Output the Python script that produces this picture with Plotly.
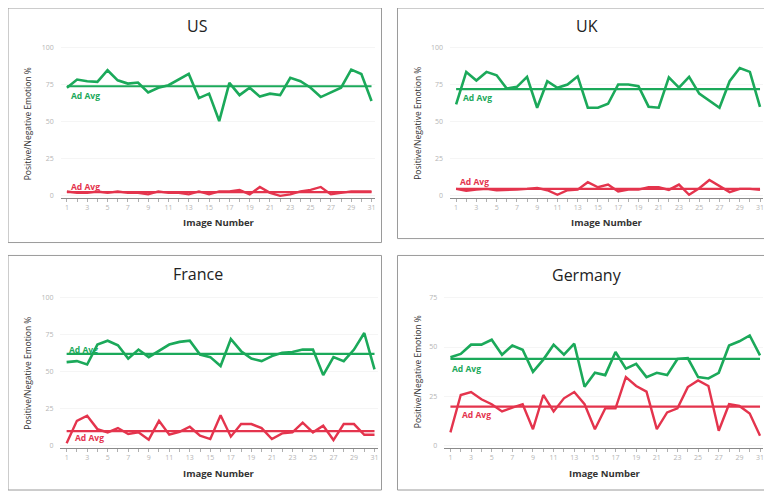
import plotly.graph_objects as go

# The page body has an 8px default margin; the figure is sized to fill the rest of the window.
OFF = 8
W, H = 772 - OFF, 494 - OFF

image_numbers = list(range(1, 32))
x_tick_labels = [str(i) if i % 2 == 1 else "" for i in image_numbers]

us_positive = [73, 78.5, 77.4, 77, 84.8, 78, 75.8, 76.5, 69.8, 73, 74.7, 78.5, 82.3, 66, 69, 50.5,
               76.3, 68, 73, 67, 69, 68, 79.7, 77.4, 73, 66.7, 69.6, 73, 85.2, 82.3, 64]
us_negative = [3, 2, 2, 3, 2, 3, 2, 2, 1, 3, 2, 2, 1, 3, 1, 3, 3, 4, 1, 6, 2, 0, 1, 3, 4, 6, 1, 2, 3, 3, 3]
us_pos_avg, us_neg_avg = 74, 2.5

uk_positive = [61.7, 83.7, 77.9, 83.7, 81.4, 72.5, 73.6, 80.3, 59.5, 77.4, 73, 75.2, 80.7, 59.5, 59.5, 62.2,
               75.2, 75.2, 74, 60.2, 59.5, 80, 73, 80.3, 69, 64, 59.5, 77.4, 86.3, 83.7, 60]
uk_negative = [4.7, 3.4, 4.2, 4.7, 3.8, 3.8, 4.2, 4.7, 5.4, 3.8, 0.7, 3.8, 4.2, 9.2, 5.8, 7.6,
               2.9, 4.2, 4.2, 5.8, 5.8, 4, 7.6, 0.7, 5.1, 10.7, 6.3, 2.5, 4.7, 4.7, 4]
uk_pos_avg, uk_neg_avg = 72, 4.7

fr_positive = [56.6, 57.3, 55, 68.5, 71.1, 68, 59, 65.1, 60, 64, 68.5, 70.3, 71.1, 61.7, 60, 54,
               72.3, 64, 59, 57.3, 60.7, 62.9, 63.5, 65.1, 65.1, 47.9, 60, 57.3, 65.1, 76.3, 51.7]
fr_negative = [1.8, 17, 20.4, 11.4, 9.2, 12.1, 8.1, 9.2, 4.3, 17, 7.6, 9.6, 13, 7, 4.7, 20.8,
               6.3, 14.8, 14.8, 12.1, 4.7, 8.5, 9.2, 15.7, 9.2, 13.7, 4, 14.8, 14.8, 7.6, 7.6]
fr_pos_avg, fr_neg_avg = 62.2, 10

de_positive = [44.8, 46.5, 51.2, 51.2, 53.7, 46.1, 50.8, 48.6, 37.4, 43.6, 51.2, 46.1, 51.7, 29.8, 36.9, 35.7,
               47.5, 39, 41.4, 34.7, 36.9, 35.7, 43.9, 44.4, 34.7, 34, 36.9, 50.8, 52.9, 55.9, 45.8]
de_negative = [6.6, 25.6, 27.1, 23.4, 20.9, 17.2, 19.2, 20.9, 8.2, 25.6, 17.2, 23.9, 27.1, 20.9, 8.2, 18.8,
               18.8, 34.7, 30.2, 27.3, 8.2, 16.7, 18.8, 29.6, 33, 30.2, 7.4, 20.9, 20, 16.2, 4.9]
de_pos_avg, de_neg_avg = 44, 19.7

y_ticks_100 = [0, 25, 50, 75, 100]
y_ticks_75 = [0, 25, 50, 75]

GREEN = "#1BA95A"
RED = "#E4344D"
FONT = "Open Sans"


def px(x):
    return min(max((x - OFF) / W, 0), 1)


def py(y):
    return min(max(1 - (y - OFF) / H, 0), 1)


panels = [
    dict(title="US", pos=us_positive, neg=us_negative, pavg=us_pos_avg, navg=us_neg_avg, yticks=y_ticks_100,
         x1=67, x31=372, y0=197, ytop=48, ytopv=100,
         box=(6, 7, 382, 244), tpos=(198, 26), xt=(219, 224), yt=(27, 124),
         glab=(69, 96), rlab=(69, 188)),
    dict(title="UK", pos=uk_positive, neg=uk_negative, pavg=uk_pos_avg, navg=uk_neg_avg, yticks=y_ticks_100,
         x1=456.7, x31=761, y0=197, ytop=48, ytopv=100,
         box=(398, 7, 767, 240), tpos=(588, 26), xt=(608, 224), yt=(418, 124),
         glab=(462, 98), rlab=(459, 183)),
    dict(title="France", pos=fr_positive, neg=fr_negative, pavg=fr_pos_avg, navg=fr_neg_avg, yticks=y_ticks_100,
         x1=66.7, x31=375, y0=448.7, ytop=299.7, ytopv=100,
         box=(7, 257, 382, 493), tpos=(198, 276), xt=(219, 476), yt=(28, 375),
         glab=(67, 352), rlab=(73, 440)),
    dict(title="Germany", pos=de_positive, neg=de_negative, pavg=de_pos_avg, navg=de_neg_avg, yticks=y_ticks_75,
         x1=451, x31=761, y0=448, ytop=299.7, ytopv=75,
         box=(398, 257, 767, 493), tpos=(588, 277), xt=(606, 476), yt=(418, 374),
         glab=(451, 371), rlab=(461, 417)),
]

fig = go.Figure()
annotations = []
shapes = []
layout_axes = {}

for i, p in enumerate(panels):
    n = "" if i == 0 else str(i + 1)
    xa, ya = "x" + n, "y" + n
    s = (p["x31"] - p["x1"]) / 30.0
    xr = [0.4, 31.3]
    xd = [px(p["x1"] + (v - 1) * s) for v in xr]
    k = (p["y0"] - p["ytop"]) / p["ytopv"]
    yr = [-1.2, p["ytopv"] + 3]
    yd = [py(p["y0"] - v * k) for v in yr]

    fig.add_trace(go.Scatter(x=image_numbers, y=p["pos"], mode="lines", xaxis=xa, yaxis=ya,
                             line=dict(color=GREEN, width=2.6), showlegend=False, hoverinfo="skip"))
    fig.add_trace(go.Scatter(x=image_numbers, y=p["neg"], mode="lines", xaxis=xa, yaxis=ya,
                             line=dict(color=RED, width=2.4), showlegend=False, hoverinfo="skip"))
    fig.add_trace(go.Scatter(x=[image_numbers[0], image_numbers[-1]], y=[p["pavg"], p["pavg"]], mode="lines",
                             xaxis=xa, yaxis=ya, line=dict(color=GREEN, width=2.2), showlegend=False, hoverinfo="skip"))
    fig.add_trace(go.Scatter(x=[image_numbers[0], image_numbers[-1]], y=[p["navg"], p["navg"]], mode="lines",
                             xaxis=xa, yaxis=ya, line=dict(color=RED, width=2.2), showlegend=False, hoverinfo="skip"))

    layout_axes["xaxis" + n] = dict(domain=xd, range=xr, anchor=ya, tickvals=image_numbers, ticktext=x_tick_labels,
                                    showgrid=False, zeroline=False, showline=True, linecolor="#8a8a8a", linewidth=1,
                                    ticks="outside", ticklen=3, tickcolor="#b0b0b0",
                                    tickfont=dict(family=FONT, size=7, color="#b5b5b5"), fixedrange=True)
    layout_axes["yaxis" + n] = dict(domain=yd, range=yr, anchor=xa, tickvals=p["yticks"],
                                    showgrid=True, gridcolor="#f5f5f5", zeroline=False, showline=False,
                                    ticks="", tickfont=dict(family=FONT, size=7, color="#b5b5b5"),
                                    ticklabelstandoff=6, fixedrange=True)

    bx0, by0, bx1, by1 = p["box"]
    shapes.append(dict(type="rect", xref="paper", yref="paper", x0=px(bx0), x1=px(bx1),
                       y0=py(by1), y1=py(by0), line=dict(color="#9a9a9a", width=1)))

    annotations.append(dict(text=p["title"], x=px(p["tpos"][0]), y=py(p["tpos"][1]), xref="paper", yref="paper",
                            showarrow=False, xanchor="center", yanchor="middle",
                            font=dict(family=FONT, size=16, color="#222")))
    annotations.append(dict(text="<b>Image Number</b>", x=px(p["xt"][0]), y=py(p["xt"][1]), xref="paper",
                            yref="paper", showarrow=False, xanchor="center", yanchor="middle",
                            font=dict(family=FONT, size=9.5, color="#333")))
    annotations.append(dict(text="Positive/Negative Emotion %", x=px(p["yt"][0]), y=py(p["yt"][1]),
                            xref="paper", yref="paper", showarrow=False, textangle=-90,
                            xanchor="center", yanchor="middle", font=dict(family=FONT, size=8.5, color="#333")))
    annotations.append(dict(text="<b>Ad Avg</b>", x=px(p["glab"][0]), y=py(p["glab"][1]), xref="paper",
                            yref="paper", showarrow=False, xanchor="left", yanchor="middle",
                            font=dict(family=FONT, size=8.5, color=GREEN)))
    annotations.append(dict(text="<b>Ad Avg</b>", x=px(p["rlab"][0]), y=py(p["rlab"][1]), xref="paper",
                            yref="paper", showarrow=False, xanchor="left", yanchor="middle",
                            font=dict(family=FONT, size=8.5, color=RED)))

fig.update_layout(width=W, height=H, margin=dict(l=0, r=0, t=0, b=0),
                  paper_bgcolor="white", plot_bgcolor="white",
                  annotations=annotations, shapes=shapes, **layout_axes)

fig.write_html("out.html")
